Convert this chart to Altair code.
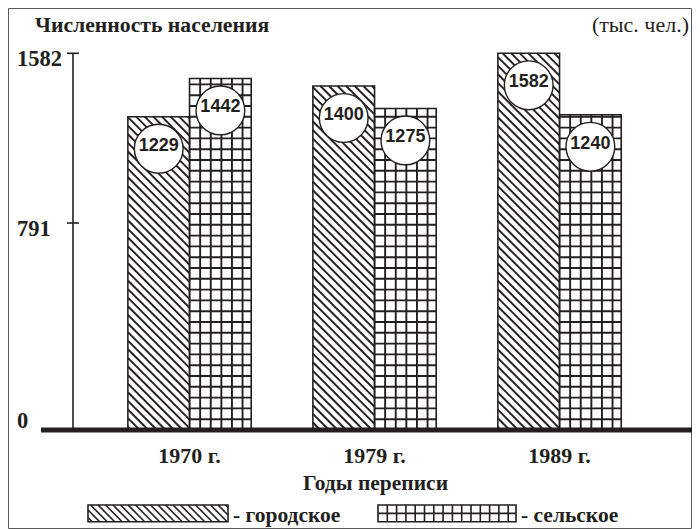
import altair as alt
import pandas as pd
import numpy as np

# ---------------- data ----------------
years = ["1970 г.", "1979 г.", "1989 г."]
urban = [1229, 1400, 1582]
rural = [1442, 1275, 1240]
series = ["городское", "сельское"]
y_tick_values = [0, 791, 1582]
y_tick_labels = ["0", "791", "1582"]
title_text = "Численность населения"
unit_text = "(тыс. чел.)"
x_title = "Годы переписи"

# ---------------- layout / scales ----------------
W, H = 619, 385
X_DOMAIN = [-0.63, 2.716]
Y_DOMAIN = [0, 791, 1229, 1582]          # non-linear (schematic) axis of the original
Y_RANGE = [385, 178, 71.7, 8.3]
BAR_W = 1 / 3
INK = "#231f20"
SERIF = "Liberation Serif"
SANS = "Liberation Sans"

xs = alt.Scale(domain=X_DOMAIN, nice=False, zero=False)
ys = alt.Scale(domain=Y_DOMAIN, range=Y_RANGE, nice=False, zero=False)


def px_x(u):
    return (u - X_DOMAIN[0]) / (X_DOMAIN[1] - X_DOMAIN[0]) * W


def inv_x(p):
    return X_DOMAIN[0] + p / W * (X_DOMAIN[1] - X_DOMAIN[0])


def px_y(v):
    return float(np.interp(v, Y_DOMAIN, Y_RANGE))


def inv_y(p):
    return float(np.interp(p, Y_RANGE[::-1], Y_DOMAIN[::-1]))


def diag_segments(L, R, T, B, step):
    segs = []
    c = np.floor((T - R) / step) * step
    while c <= B - L:
        xa = max(L, T - c)
        xb = min(R, B - c)
        if xb - xa > 0.6:
            segs.append((xa, xa + c, xb, xb + c))
        c += step
    return segs


def grid_segments(L, R, T, B, step_x, step_y):
    segs = []
    x = L + step_x
    while x < R - 1.5:
        segs.append((x, T, x, B))
        x += step_x
    y = B - step_y
    while y > T + 1.5:
        segs.append((L, y, R, y))
        y -= step_y
    return segs


# bars table
rows = []
for i, yr in enumerate(years):
    rows.append(dict(year=yr, series=series[0], x0=i - BAR_W, x1=i, xc=i - BAR_W / 2,
                     value=urban[i], base=0, label=str(urban[i])))
    rows.append(dict(year=yr, series=series[1], x0=i, x1=i + BAR_W, xc=i + BAR_W / 2,
                     value=rural[i], base=0, label=str(rural[i])))
bars = pd.DataFrame(rows)

# hatch lines inside bars (drawn in data units through the same scales)
hrows = []
for r in rows:
    L, R = px_x(r["x0"]), px_x(r["x1"])
    T, B = px_y(r["value"]), px_y(0)
    if r["series"] == series[0]:
        segs = diag_segments(L, R, T, B, 8.6)
    else:
        segs = grid_segments(L, R, T, B, 10.6, 10.8)
    for (a, b, c, d) in segs:
        hrows.append(dict(x1=inv_x(a), y1=inv_y(b), x2=inv_x(c), y2=inv_y(d)))
hatch = pd.DataFrame(hrows)

# legend swatches (pixel positions, scale=None)
LEG = [(15, 155, 460, 476.7), (305, 443, 460, 476.7)]
lrows, lrect, ltext = [], [], []
for k, (L, R, T, B) in enumerate(LEG):
    segs = diag_segments(L, R, T, B, 7.5) if k == 0 else grid_segments(L, R, T, B, 9.3, (B - T) / 2)
    for (a, b, c, d) in segs:
        lrows.append(dict(x1=a, y1=b, x2=c, y2=d))
    lrect.append(dict(L=L, R=R, T=T, B=B))
    ltext.append(dict(x=R + 5, y=B, t="- " + series[k]))
leg_lines = pd.DataFrame(lrows)
leg_rect = pd.DataFrame(lrect)
leg_text = pd.DataFrame(ltext)

ticks = pd.DataFrame({"v": y_tick_values, "label": y_tick_labels})
yr_df = pd.DataFrame({"year": years, "xc": list(range(len(years)))})
axis_df = pd.DataFrame({"top": [max(y_tick_values)], "bottom": [0]})
one = pd.DataFrame({"a": [0]})

X = lambda f: alt.X(f, scale=xs, axis=None)
Y = lambda f: alt.Y(f, scale=ys, axis=None)

frame = alt.Chart(one).mark_rect(fillOpacity=0, stroke="#5a5a5a", strokeWidth=1).encode(
    x=alt.value(-64.5), x2=alt.value(618.5), y=alt.value(-36.5), y2=alt.value(483.5))

bar_fill = alt.Chart(bars).mark_rect(fill="white", strokeWidth=0).encode(
    x=X("x0:Q"), x2="x1:Q", y=Y("value:Q"), y2="base:Q")

hatch_l = alt.Chart(hatch).mark_rule(stroke=INK, strokeWidth=1.9).encode(
    x=X("x1:Q"), x2="x2:Q", y=Y("y1:Q"), y2="y2:Q")

bar_out = alt.Chart(bars).mark_rect(fillOpacity=0, stroke=INK, strokeWidth=1.6).encode(
    x=X("x0:Q"), x2="x1:Q", y=Y("value:Q"), y2="base:Q")

circles = alt.Chart(bars).mark_point(shape="circle", filled=True, fill="white", stroke=INK,
                                     strokeWidth=1.4, size=2376, opacity=1, yOffset=32).encode(
    x=X("xc:Q"), y=Y("value:Q"))

vals = alt.Chart(bars).mark_text(font=SANS, fontWeight="bold", fontSize=18, color=INK,
                                 baseline="middle", align="center", yOffset=29).encode(
    x=X("xc:Q"), y=Y("value:Q"), text="label:N")

yaxis = alt.Chart(axis_df).mark_rule(stroke=INK, strokeWidth=1.6).encode(
    x=alt.value(0), y=Y("top:Q"), y2="bottom:Q")

yticks = alt.Chart(ticks).mark_rule(stroke=INK, strokeWidth=1.6).encode(
    x=alt.value(-6), x2=alt.value(6), y=Y("v:Q"))

ylab_hi = alt.Chart(ticks).transform_filter("datum.v > 0").mark_text(
    font=SERIF, fontWeight="bold", fontSize=22.5, color=INK, align="left",
    baseline="alphabetic", dy=13).encode(x=alt.value(-56), y=Y("v:Q"), text="label:N")
ylab_zero = alt.Chart(ticks).transform_filter("datum.v == 0").mark_text(
    font=SERIF, fontWeight="bold", fontSize=22.5, color=INK, align="left",
    baseline="alphabetic", dy=-2).encode(x=alt.value(-56), y=Y("v:Q"), text="label:N")

baseline = alt.Chart(axis_df).mark_rule(stroke=INK, strokeWidth=5).encode(
    x=alt.value(-32), x2=alt.value(W), y=Y("bottom:Q"))

xlabels = alt.Chart(yr_df).mark_text(font=SERIF, fontWeight="bold", fontSize=22, color=INK,
                                     baseline="alphabetic", align="center").encode(
    x=X("xc:Q"), y=alt.value(418.3), text="year:N")

xtitle = alt.Chart(pd.DataFrame({"t": [x_title]})).mark_text(
    font=SERIF, fontWeight="bold", fontSize=21.5, color=INK, baseline="alphabetic", align="center").encode(
    x=alt.value(302.5), y=alt.value(445), text="t:N")

title = alt.Chart(pd.DataFrame({"t": [title_text]})).mark_text(
    font=SERIF, fontWeight="bold", fontSize=21.7, color=INK, baseline="alphabetic", align="left").encode(
    x=alt.value(-38), y=alt.value(-13.3), text="t:N")

unit = alt.Chart(pd.DataFrame({"t": [unit_text]})).mark_text(
    font=SERIF, fontSize=22, color=INK, baseline="alphabetic", align="right").encode(
    x=alt.value(616), y=alt.value(-13.3), text="t:N")

leg_lines_l = alt.Chart(leg_lines).mark_rule(stroke=INK, strokeWidth=1.6).encode(
    x=alt.X("x1:Q", scale=None), x2="x2:Q", y=alt.Y("y1:Q", scale=None), y2="y2:Q")
leg_rect_l = alt.Chart(leg_rect).mark_rect(fillOpacity=0, stroke=INK, strokeWidth=1.6).encode(
    x=alt.X("L:Q", scale=None), x2="R:Q", y=alt.Y("T:Q", scale=None), y2="B:Q")
leg_text_l = alt.Chart(leg_text).mark_text(
    font=SERIF, fontWeight="bold", fontSize=21.5, color=INK, baseline="alphabetic", align="left").encode(
    x=alt.X("x:Q", scale=None), y=alt.Y("y:Q", scale=None), text="t:N")

chart = alt.layer(
    frame, bar_fill, hatch_l, bar_out, circles, vals, yaxis, yticks, ylab_hi, ylab_zero,
    baseline, xlabels, xtitle, title, unit, leg_lines_l, leg_rect_l, leg_text_l
).properties(
    width=W, height=H,
    autosize=alt.AutoSizeParams(type="none"),
    padding={"left": 65, "top": 37, "right": 0, "bottom": 99},
    background="white",
).configure_view(strokeWidth=0)

chart.save("out.html", embed_options={"renderer": "svg", "actions": False})
